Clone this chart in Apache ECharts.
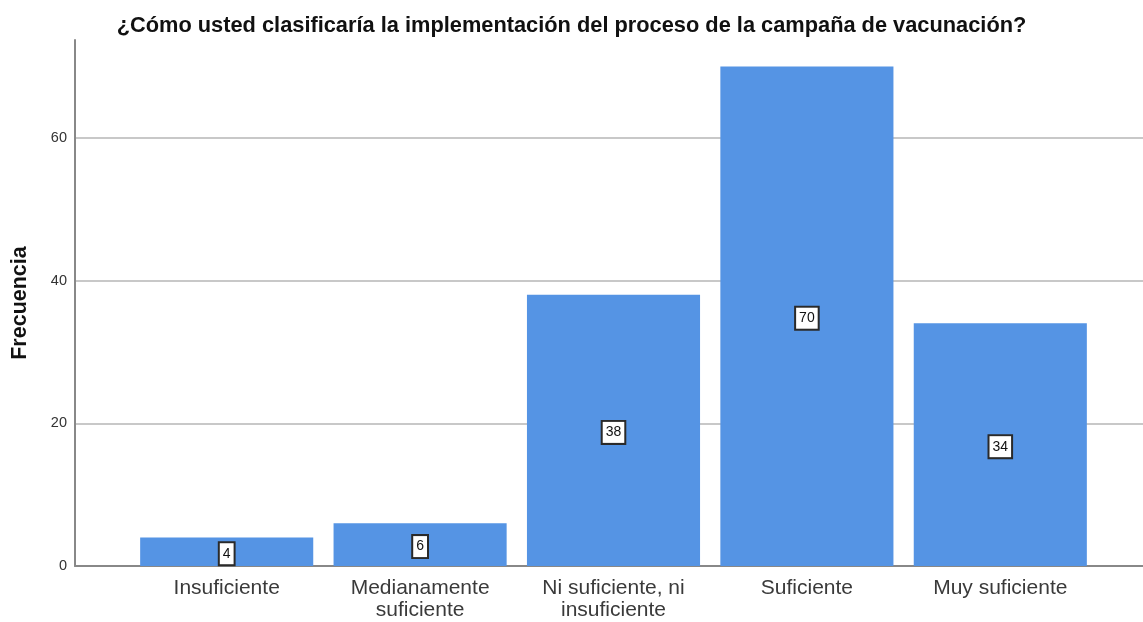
<!DOCTYPE html>
<html style="height:100%;">
<head>
    <meta charset="utf-8">
    <script src="https://cdn.jsdelivr.net/npm/echarts@6/dist/echarts.min.js"></script>
</head>
<body style="height:100%;margin:0;">
    <div id="main" style="width:1143px;height:622px;"></div>
<script>
    // categorías y frecuencias
    var categorias = ['Insuficiente', 'Medianamente\nsuficiente', 'Ni suficiente, ni\ninsuficiente', 'Suficiente', 'Muy suficiente'];
    var frecuencias = [4, 6, 38, 70, 34];
    var yMax = 73.7;

    var chart = echarts.init(document.getElementById('main'));
    var option = {
        backgroundColor: '#FFFFFF',
        animation: false,
        title: {
            text: '¿Cómo usted clasificaría la implementación del proceso de la campaña de vacunación?',
            left: 'center',
            top: 10,
            textStyle: {fontFamily: 'Liberation Sans', fontWeight: 'bold', fontSize: 21.8, color: '#111'}
        },
        grid: [
            {left: 75, right: 0, top: 40, bottom: 56},
            {left: 130, right: 46, top: 40, bottom: 56}
        ],
        xAxis: [
            {
                gridIndex: 0, type: 'value', min: 0, max: 1,
                axisLine: {show: true, lineStyle: {color: '#888', width: 2}},
                axisTick: {show: false}, axisLabel: {show: false}, splitLine: {show: false}
            },
            {
                gridIndex: 1, type: 'category', data: categorias,
                axisLine: {show: false}, axisTick: {show: false},
                axisLabel: {
                    margin: 11, color: '#3a3a3a', fontSize: 21, lineHeight: 22,
                    fontFamily: 'Liberation Sans', interval: 0
                }
            }
        ],
        yAxis: [
            {
                gridIndex: 0, type: 'value', min: 0, max: yMax, interval: 20,
                name: 'Frecuencia', nameLocation: 'middle', nameGap: 44, nameRotate: 90,
                nameTextStyle: {fontFamily: 'Liberation Sans', fontWeight: 'bold', fontSize: 21.5, color: '#111'},
                axisLine: {show: true, lineStyle: {color: '#888', width: 2}},
                axisTick: {show: false},
                axisLabel: {
                    color: '#333', fontSize: 14.5, fontFamily: 'Liberation Sans', margin: 8,
                    showMaxLabel: false
                },
                splitLine: {show: true, showMaxLine: false, lineStyle: {color: '#c8c8c8', width: 2}}
            },
            {
                gridIndex: 1, type: 'value', min: 0, max: yMax, show: false,
                splitLine: {show: false}
            }
        ],
        series: [{
            name: 'Frecuencia',
            type: 'bar',
            xAxisIndex: 1,
            yAxisIndex: 1,
            data: frecuencias,
            barWidth: '89.5%',
            itemStyle: {color: '#5594e4'},
            label: {
                show: true,
                position: 'inside',
                offset: [0, 2],
                color: '#111',
                fontSize: 14,
                fontFamily: 'Liberation Sans',
                backgroundColor: '#fff',
                borderColor: '#2a2a2a',
                borderWidth: 2,
                padding: [4, 3, 3, 3]
            }
        }]
    };
    chart.setOption(option);
</script>
</body>
</html>
